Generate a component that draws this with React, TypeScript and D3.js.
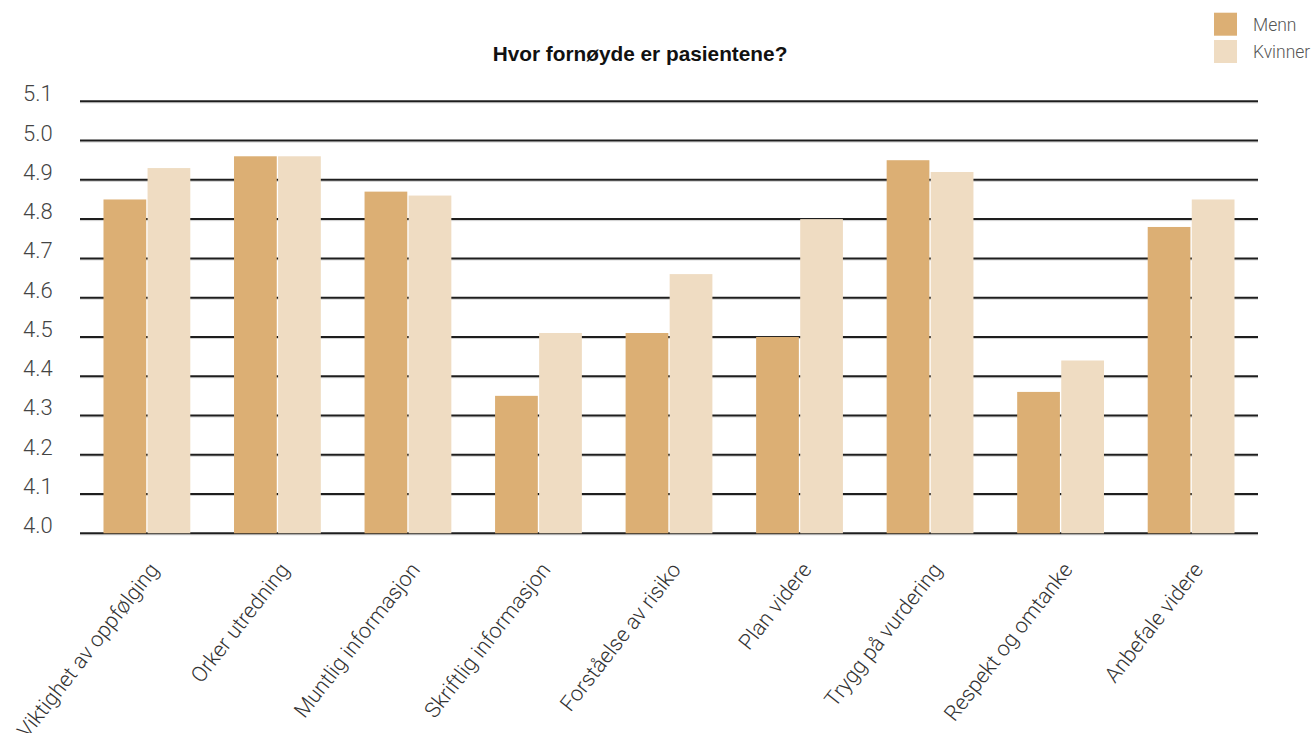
import React from "react";
import * as d3 from "d3";

const categories = [
  "Viktighet av oppfølging",
  "Orker utredning",
  "Muntlig informasjon",
  "Skriftlig informasjon",
  "Forståelse av risiko",
  "Plan videre",
  "Trygg på vurdering",
  "Respekt og omtanke",
  "Anbefale videre",
];
const menn = [4.85, 4.96, 4.87, 4.35, 4.51, 4.5, 4.95, 4.36, 4.78];
const kvinner = [4.93, 4.96, 4.86, 4.51, 4.66, 4.8, 4.92, 4.44, 4.85];
const seriesNames = ["Menn", "Kvinner"];
const yTicks = [4.0, 4.1, 4.2, 4.3, 4.4, 4.5, 4.6, 4.7, 4.8, 4.9, 5.0, 5.1];
const title = "Hvor fornøyde er pasientene?";

const W = 1315;
const H = 733;
const colors = ["#DCAF74", "#EFDCC2"];

export default function App() {
  const left = 80;
  const right = 1258;
  const top = 101.3;
  const bottom = 533.3;

  const x0 = d3
    .scaleBand<string>()
    .domain(categories)
    .range([left, right])
    .paddingInner(0.335)
    .paddingOuter(0.18);
  const x1 = d3
    .scaleBand<string>()
    .domain(seriesNames)
    .range([0, x0.bandwidth()])
    .paddingInner(0.03);
  const y = d3.scaleLinear().domain([4.0, 5.1]).range([bottom, top]);

  const series = [menn, kvinner];
  const labelFont = "Roboto, 'Open Sans', sans-serif";

  return (
    <svg
      width={W}
      height={H}
      style={{ position: "absolute", left: 0, top: 0, background: "#fff" }}
    >
      <text
        x={640}
        y={61}
        textAnchor="middle"
        fontFamily="'Liberation Sans', Arial, sans-serif"
        fontWeight="bold"
        fontSize={20.8}
        fill="#111"
      >
        {title}
      </text>

      {/* legend */}
      {seriesNames.map((s, i) => (
        <g key={s} transform={`translate(1214, ${12.7 + i * 27.3})`}>
          <rect width={23} height={23} fill={colors[i]} />
          <text
            x={39}
            y={18}
            fontFamily={labelFont}
            fontWeight={300}
            fontSize={17.5}
            fill="#555"
          >
            {s}
          </text>
        </g>
      ))}

      {/* gridlines */}
      {yTicks.map((t) => (
        <g key={t}>
          <line
            x1={left}
            x2={right}
            y1={y(t) + 1.5}
            y2={y(t) + 1.5}
            stroke="#cfcfcf"
            strokeWidth={1}
          />
          <line
            x1={left}
            x2={right}
            y1={y(t)}
            y2={y(t)}
            stroke="#1e1e1e"
            strokeWidth={2}
          />
          <text
            x={23}
            y={y(t)}
            fontFamily={labelFont}
            fontWeight={300}
            fontSize={22}
            fill="#444"
          >
            {t.toFixed(1)}
          </text>
        </g>
      ))}

      {/* bars */}
      {categories.map((c, ci) => (
        <g key={c} transform={`translate(${x0(c)},0)`}>
          {series.map((vals, si) => (
            <rect
              key={si}
              x={x1(seriesNames[si])}
              y={y(vals[ci])}
              width={x1.bandwidth()}
              height={bottom - y(vals[ci])}
              fill={colors[si]}
            />
          ))}
        </g>
      ))}

      {/* x labels */}
      {categories.map((c) => {
        const cx = (x0(c) as number) + x0.bandwidth() / 2 + 13;
        const cy = 570;
        return (
          <text
            key={c}
            transform={`translate(${cx},${cy}) rotate(-52)`}
            textAnchor="end"
            fontFamily={labelFont}
            fontWeight={300}
            fontSize={21.5}
            fill="#333"
          >
            {c}
          </text>
        );
      })}
    </svg>
  );
}
